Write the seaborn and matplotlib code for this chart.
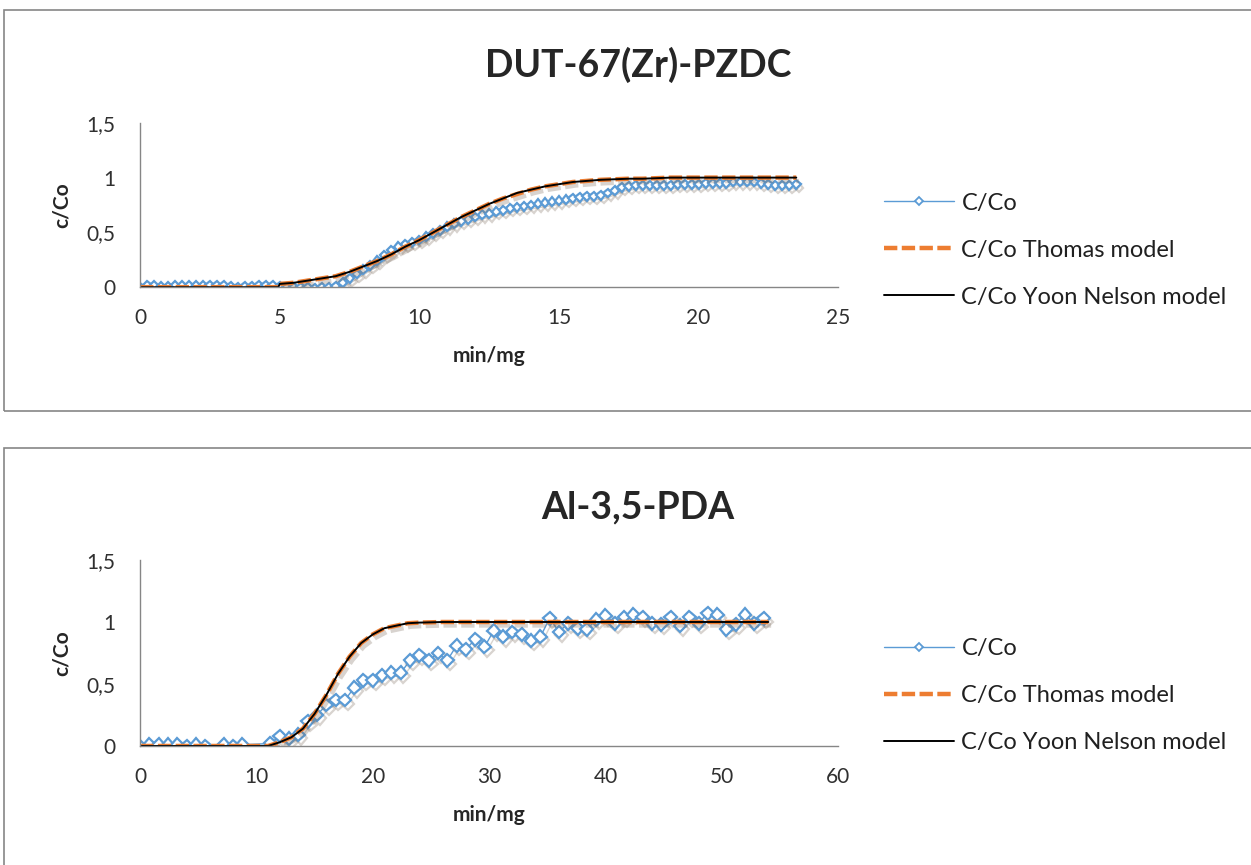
import matplotlib
matplotlib.use("Agg")
import numpy as np
import pandas as pd
import matplotlib.pyplot as plt
import matplotlib.patheffects as pe
from matplotlib.patches import Rectangle
from matplotlib.ticker import FuncFormatter
import seaborn as sns


# Data

# DUT-67(Zr)-PZDC, experimental C/Co
dut_x = [
    0.00, 0.25, 0.50, 0.75, 1.00, 1.25, 1.50, 1.75, 2.00, 2.25, 2.50, 2.75,
    3.00, 3.25, 3.50, 3.75, 4.00, 4.25, 4.50, 4.75, 5.00, 5.25, 5.50, 5.75,
    6.00, 6.25, 6.50, 6.75, 7.00, 7.25, 7.50, 7.75, 8.00, 8.25, 8.50, 8.75,
    9.00, 9.25, 9.50, 9.75, 10.00, 10.25, 10.50, 10.75, 11.00, 11.25, 11.50, 11.75,
    12.00, 12.25, 12.50, 12.75, 13.00, 13.25, 13.50, 13.75, 14.00, 14.25, 14.50, 14.75,
    15.00, 15.25, 15.50, 15.75, 16.00, 16.25, 16.50, 16.75, 17.00, 17.25, 17.50, 17.75,
    18.00, 18.25, 18.50, 18.75, 19.00, 19.25, 19.50, 19.75, 20.00, 20.25, 20.50, 20.75,
    21.00, 21.25, 21.50, 21.75, 22.00, 22.25, 22.50, 22.75, 23.00, 23.25, 23.50,
]
dut_c = [
    0.00, 0.02, 0.02, 0.01, 0.01, 0.02, 0.02, 0.02, 0.02, 0.02, 0.02, 0.02,
    0.02, 0.01, 0.00, 0.01, 0.01, 0.02, 0.02, 0.02, 0.01, 0.00, 0.00, 0.00,
    0.00, -0.01, 0.00, 0.00, 0.01, 0.04, 0.08, 0.12, 0.16, 0.20, 0.24, 0.29,
    0.34, 0.37, 0.39, 0.41, 0.43, 0.46, 0.49, 0.52, 0.55, 0.58, 0.60, 0.62,
    0.64, 0.66, 0.67, 0.69, 0.70, 0.72, 0.73, 0.74, 0.75, 0.76, 0.77, 0.78,
    0.79, 0.80, 0.81, 0.82, 0.83, 0.83, 0.84, 0.86, 0.88, 0.91, 0.92, 0.93,
    0.93, 0.93, 0.93, 0.93, 0.93, 0.94, 0.94, 0.94, 0.94, 0.95, 0.95, 0.95,
    0.95, 0.96, 0.96, 0.96, 0.96, 0.95, 0.94, 0.93, 0.93, 0.93, 0.94,
]

# DUT-67(Zr)-PZDC, model curves
dut_model_x = [
    0.0, 1.0, 2.0, 3.0, 4.0, 4.95, 5.0, 5.5, 6.0, 6.5, 7.0, 7.5, 8.0, 8.5,
    9.0, 9.5, 10.0, 10.5, 11.0, 11.5, 12.0, 12.5, 13.0, 13.5, 14.0, 14.5,
    15.0, 15.5, 16.0, 16.5, 17.0, 17.5, 18.0, 19.0, 20.0, 21.0, 22.0, 23.0, 23.5,
]
dut_thomas = [
    0.00, 0.00, 0.00, 0.00, 0.00, 0.00, 0.03, 0.04, 0.06, 0.08, 0.10, 0.14, 0.19, 0.24,
    0.30, 0.37, 0.43, 0.50, 0.57, 0.64, 0.70, 0.76, 0.81, 0.85, 0.89, 0.92,
    0.94, 0.96, 0.97, 0.98, 0.985, 0.99, 0.99, 1.00, 1.00, 1.00, 1.00, 1.00, 1.00,
]
dut_yoon = [
    0.00, 0.00, 0.00, 0.00, 0.00, 0.00, 0.03, 0.04, 0.06, 0.08, 0.10, 0.14, 0.19, 0.24,
    0.30, 0.37, 0.43, 0.50, 0.57, 0.64, 0.70, 0.76, 0.81, 0.86, 0.89, 0.92,
    0.94, 0.96, 0.97, 0.98, 0.985, 0.99, 0.99, 1.00, 1.00, 1.00, 1.00, 1.00, 1.00,
]

# Al-3,5-PDA, experimental C/Co
al_x = [
    0.0, 0.8, 1.6, 2.4, 3.2, 4.0, 4.8, 5.6, 7.2, 8.0, 8.8, 11.2, 12.0, 12.8,
    13.6, 14.4, 15.2, 16.0, 16.8, 17.6, 18.4, 19.2, 20.0, 20.8, 21.6, 22.4,
    23.2, 24.0, 24.8, 25.6, 26.4, 27.2, 28.0, 28.8, 29.6, 30.4, 31.2, 32.0,
    32.8, 33.6, 34.4, 35.2, 36.0, 36.8, 37.6, 38.4, 39.2, 40.0, 40.8, 41.6,
    42.4, 43.2, 44.0, 44.8, 45.6, 46.4, 47.2, 48.0, 48.8, 49.6, 50.4, 51.2,
    52.0, 52.8, 53.6,
]
al_c = [
    0.00, 0.01, 0.01, 0.01, 0.01, 0.00, 0.01, 0.00, 0.01, 0.00, 0.01, 0.02, 0.08, 0.06,
    0.09, 0.20, 0.25, 0.33, 0.37, 0.37, 0.47, 0.53, 0.53, 0.57, 0.59, 0.59,
    0.69, 0.73, 0.69, 0.75, 0.69, 0.81, 0.78, 0.86, 0.80, 0.93, 0.88, 0.92,
    0.90, 0.85, 0.88, 1.03, 0.92, 0.99, 0.95, 0.94, 1.02, 1.05, 0.99, 1.04,
    1.06, 1.04, 0.99, 0.98, 1.04, 0.97, 1.04, 0.99, 1.07, 1.06, 0.94, 0.98,
    1.06, 0.99, 1.03,
]

# Al-3,5-PDA, model curves
al_model_x = [
    0.0, 5.0, 10.0, 11.0, 12.0, 13.0, 14.0, 15.0, 16.0, 17.0, 18.0, 19.0,
    20.0, 21.0, 22.0, 23.0, 24.0, 26.0, 30.0, 40.0, 50.0, 54.0,
]
al_thomas = [
    0.00, 0.00, 0.00, 0.00, 0.03, 0.07, 0.14, 0.26, 0.41, 0.58, 0.72, 0.83,
    0.90, 0.95, 0.97, 0.99, 0.995, 1.00, 1.00, 1.00, 1.00, 1.00,
]
al_yoon = [
    0.00, 0.00, 0.00, 0.00, 0.03, 0.07, 0.14, 0.26, 0.41, 0.58, 0.72, 0.83,
    0.90, 0.95, 0.97, 0.99, 0.995, 1.00, 1.00, 1.00, 1.00, 1.00,
]

labels = ["C/Co", "C/Co Thomas model", "C/Co Yoon Nelson model"]


sns.set_style("white")
plt.rcParams["font.family"] = ["Lato", "DejaVu Sans"]

blue = "#5B9BD5"
orange = "#ED7D31"
grey = "#868686"

shadow = [pe.SimpleLineShadow(offset=(2, -2.5), shadow_color="#7f6f60", alpha=0.3),
          pe.Normal()]

fig = plt.figure(figsize=(12.51, 8.65), dpi=100)

# chart area frames
fig.patches.append(Rectangle((0.003, 0.525), 1.2, 0.463, transform=fig.transFigure,
                             fill=False, edgecolor=grey, lw=1.2))
fig.patches.append(Rectangle((0.003, -0.1), 1.2, 0.582, transform=fig.transFigure,
                             fill=False, edgecolor=grey, lw=1.2))

ax1 = fig.add_axes([0.112, 0.668, 0.558, 0.19])
ax2 = fig.add_axes([0.112, 0.1376, 0.558, 0.215])


def draw_panel(ax, x, c, mx, thomas, yoon, msize, xmax, xstep, title, title_y, leg_y):
    sns.lineplot(x=x, y=c, ax=ax, color=blue, lw=1.0, marker="D",
                 markersize=msize, markerfacecolor="white", markeredgecolor=blue,
                 markeredgewidth=1.6, label=labels[0], path_effects=shadow)
    sns.lineplot(x=mx, y=thomas, ax=ax, color=orange, lw=3.2, ls=(0, (3, 1)),
                 label=labels[1], path_effects=shadow)
    sns.lineplot(x=mx, y=yoon, ax=ax, color="black", lw=1.4, label=labels[2])

    ax.set_xlim(0, xmax)
    ax.set_ylim(0, 1.5)
    ax.set_xticks(np.arange(0, xmax + 1, xstep))
    ax.set_yticks([0, 0.5, 1, 1.5])
    ax.yaxis.set_major_formatter(FuncFormatter(lambda v, p: f"{v:g}".replace(".", ",")))
    ax.tick_params(axis="both", direction="out", length=6, width=1, color=grey,
                   labelsize=15, labelcolor="#303030")
    ax.tick_params(axis="x", pad=9)
    ax.tick_params(axis="y", pad=12)
    for s in ["top", "right"]:
        ax.spines[s].set_visible(False)
    for s in ["left", "bottom"]:
        ax.spines[s].set_color(grey)
        ax.spines[s].set_linewidth(1)

    ax.set_xlabel("min/mg", fontsize=15, fontweight="bold", labelpad=13)
    ax.set_ylabel("c/Co", fontsize=15, fontweight="bold", labelpad=10)

    fig.text(0.51, title_y, title, ha="center", va="center",
             fontsize=27, fontweight="bold")

    leg = ax.legend(loc="center left", bbox_to_anchor=(1.065, leg_y), frameon=False,
                    fontsize=17, handlelength=3.0, handletextpad=0.3,
                    labelspacing=1.1, borderpad=0, borderaxespad=0)
    for t in leg.get_texts():
        t.set_color("#202020")
    for h in leg.get_lines():
        h.set_path_effects([])
    leg.get_lines()[0].set_markersize(4)
    leg.get_lines()[0].set_markeredgewidth(1.3)


draw_panel(ax1, dut_x, dut_c, dut_model_x, dut_thomas, dut_yoon, 4.5, 25, 5,
           "DUT-67(Zr)-PZDC", 0.925, 0.226)
draw_panel(ax2, al_x, al_c, al_model_x, al_thomas, al_yoon, 6.5, 60, 10,
           "Al-3,5-PDA", 0.413, 0.269)

fig.savefig("out.png", dpi=100)
